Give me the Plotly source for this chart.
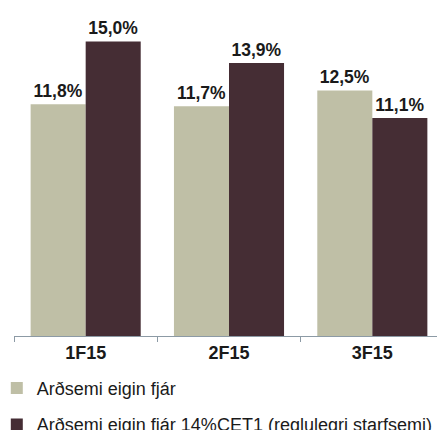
import plotly.graph_objects as go

categories = ["1F15", "2F15", "3F15"]
series1_name = "Arðsemi eigin fjár"
series1 = [11.8, 11.7, 12.5]
series2_name = "Arðsemi eigin fjár 14%CET1 (reglulegri starfsemi)"
series2 = [15.0, 13.9, 11.1]

def lab(v):
    return [f"{x:.1f}%".replace(".", ",") for x in v]

fig = go.Figure()
fig.add_trace(go.Bar(
    x=categories, y=series1, name=series1_name,
    marker=dict(color="#BFBFA6", line=dict(width=0)),
    text=lab(series1), textposition="outside", cliponaxis=False, constraintext="none",
    textfont=dict(family="Liberation Sans", size=17.5, color="#1a1a1a", weight="bold"),
    legendgroup="a",
))
fig.add_trace(go.Bar(
    x=categories, y=series2, name=series2_name,
    marker=dict(color="#452D34", line=dict(width=0)),
    text=lab(series2), textposition="outside", cliponaxis=False, constraintext="none",
    textfont=dict(family="Liberation Sans", size=17.5, color="#1a1a1a", weight="bold"),
    legendgroup="b",
))

# page body has an 8px default margin; figure sized to fit the 445x430 window
fig.update_layout(
    width=437, height=422,
    margin=dict(l=6, r=1, t=0, b=94, autoexpand=False),
    paper_bgcolor="white", plot_bgcolor="white",
    barmode="group", bargap=0.232, bargroupgap=0,
    font=dict(family="Liberation Sans", color="#1a1a1a"),
    showlegend=True,
    legend=dict(
        orientation="v", x=-0.040, xanchor="left", y=-0.103, yanchor="top",
        font=dict(family="Liberation Sans", size=18, color="#1a1a1a"),
        traceorder="grouped", tracegroupgap=10,
        itemwidth=30, bgcolor="rgba(0,0,0,0)",
    ),
)
fig.update_xaxes(
    showline=True, linecolor="#8C9AA5", linewidth=1, automargin=False,
    ticks="outside", tickson="boundaries", ticklen=5, tickcolor="#8C9AA5",
    tickfont=dict(family="Liberation Sans", size=18, color="#1a1a1a", weight="bold"),
    showgrid=False, zeroline=False,
)
fig.update_yaxes(
    range=[0, 16.7], visible=False, showgrid=False, zeroline=False, automargin=False,
)

fig.write_html("out.html")
